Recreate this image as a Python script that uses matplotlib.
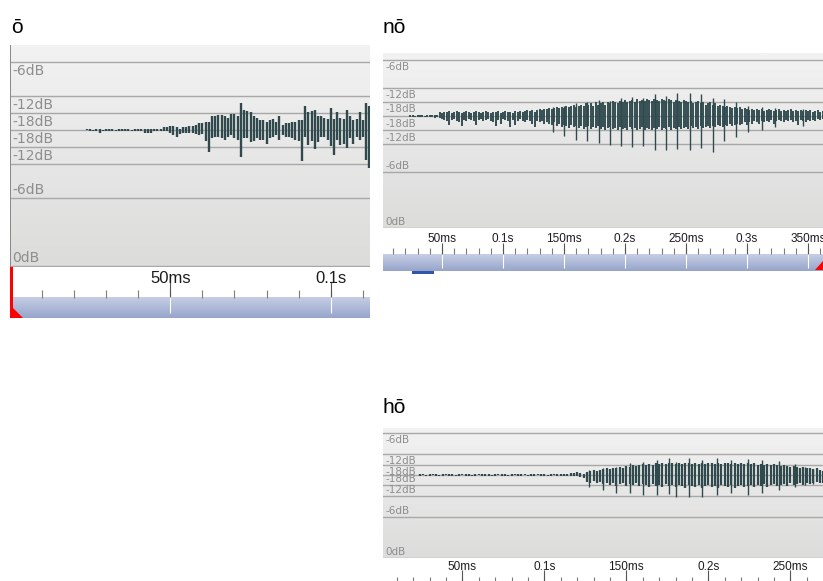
import numpy as np
import matplotlib
matplotlib.use("Agg")
import matplotlib.pyplot as plt
from matplotlib.colors import LinearSegmentedColormap
from matplotlib.patches import Polygon, Rectangle

W, H = 823, 581
WAVE = "#2f494d"
GRID = "#a8a8a8"
LABEL = "#8e8e8e"

# dB grid of the editor (linear amplitude of each labelled line)
db_levels = [0.5, 0.25, 0.125]
db_names = ["-6dB", "-12dB", "-18dB"]

# ---- panel "ō": one bar per ms, amplitude in % of full scale ----
o_t = np.arange(24, 113)
o_top = [1, 1, 0, 1, 1, 0, 1, 1, 1, 0, 1, 1, 1, 1, 0, 1, 1, 1, 1, 1,
         1, 1, 1, 1, 2, 2, 3, 3, 2, 1, 2, 2, 3, 3, 4,
         5, 5, 6, 6, 10, 10, 11, 11, 10, 9, 12, 12, 10, 20, 15, 14, 13, 10, 9, 7,
         7, 6, 7, 8, 6, 10, 4, 5, 5, 6, 6, 7, 7, 18, 13, 14, 15, 10, 10, 9,
         8, 16, 8, 13, 9, 8, 15, 10, 7, 8, 13, 7, 20, 18]
o_bot = [0, -1, -1, -1, -2, -1, -1, -1, -1, -1, -1, -1, -1, -1, -1, -1, -1, -1, -2, -2,
         -2, -1, -1, -1, -1, -1, -2, -4, -5, -3, -2, -2, -2, -2, -3,
         -4, -3, -8, -16, -6, -5, -5, -6, -7, -5, -4, -6, -7, -20, -6, -6, -9, -8, -6, -7,
         -7, -10, -6, -5, -4, -7, -4, -5, -5, -6, -7, -8, -23, -5, -11, -8, -14, -9, -5, -5,
         -7, -12, -18, -7, -11, -10, -13, -6, -10, -5, -7, -5, -22, -28]

# ---- panel "nō": body every 2 ms plus glottal pulse spikes ----
no_t = np.arange(24, 363, 2)
no_top = [1, 1, 0, 1, 1, 1, 0, 1, 1, 1, 1, 1,
          3, 2, 3, 3, 4, 2, 3, 4, 3, 2, 3, 4, 3, 2, 3, 4, 3, 2, 3, 4,
          3, 2, 3, 3, 4, 2, 3, 4, 3, 3, 2, 4, 3, 4, 3, 4, 5, 4, 5, 3, 5, 6, 5, 6,
          6, 7, 6, 7, 8, 7, 8, 7, 9, 8, 9, 10, 8, 9, 10, 9, 11, 10, 11, 9,
          12, 10, 11, 12, 10, 12, 11, 13, 12, 11, 13, 12, 14, 12, 13, 14, 12, 15, 13, 14,
          13, 15, 14, 13, 15, 14, 13, 15, 14, 13, 15, 14, 12, 14, 13, 12, 14, 13, 12, 13,
          11, 12, 13, 11, 12, 10, 11, 12, 10, 11, 9, 10, 9, 8, 9, 8, 7, 8, 7, 8,
          6, 7, 6, 5, 6, 5, 6, 5, 6, 4, 5, 6, 5, 4, 5, 6, 4, 5, 4, 5,
          6, 4, 5, 4, 5, 4, 5, 4, 5, 3, 4, 5, 3, 4]
no_bot = [-1, -1, -1, -1, -1, -1, -1, -1, -1, -1, -2, -1,
          -2, -3, -4, -5, -8, -4, -3, -5, -6, -9, -4, -5, -3, -4, -5, -8, -4, -3, -5, -4,
          -3, -5, -6, -9, -4, -7, -3, -4, -5, -10, -4, -8, -5, -3, -5, -6, -4, -5, -7, -10,
          -5, -6, -5, -7,
          -6, -7, -8, -6, -9, -7, -10, -8, -9, -11, -8, -10, -9, -11, -9, -12, -10, -9, -12, -10,
          -11, -9, -12, -10, -13, -11, -10, -12, -11, -13, -10, -12, -11, -13, -10, -12, -11, -13, -12, -10,
          -13, -11, -12, -13, -11, -12, -10, -13, -11, -12, -10, -13, -11, -12, -10, -12, -11, -10, -12, -9,
          -11, -10, -12, -9, -11, -10, -9, -11, -9, -10, -8, -9, -10, -8, -9, -7, -9, -8, -7, -8,
          -7, -6, -8, -6, -7, -5, -6, -7, -5, -6, -5, -6, -4, -7, -5, -4, -5, -6, -4, -5,
          -4, -6, -5, -8, -4, -5, -6, -4, -5, -4, -5, -3, -4, -3]
no_spk_t = [141, 150, 160, 169, 179, 188, 197, 206, 215, 225, 234, 243, 253, 262, 272,
            281, 291, 301, 312, 323, 346]
no_spk_top = [8, 9, 11, 12, 14, 13, 16, 17, 16, 19, 18, 20, 20, 19, 16, 15, 12, 9, 8, 7, 6]
no_spk_bot = [-15, -18, -22, -23, -24, -26, -27, -28, -27, -31, -31, -30, -31, -29, -32,
              -23, -19, -15, -13, -10, -9]

# ---- panel "hō" ----
ho_t = np.arange(24, 271, 2)
ho_top = [1, 1, 0, 1, 1, 1, 0, 1, 1, 1, 1, 0, 1, 1, 1, 1, 0, 1, 1, 1,
          1, 1, 0, 1, 1, 1, 1, 0, 1, 1, 1, 1, 1, 0, 1, 1, 1, 1, 1, 0,
          1, 1, 1, 1, 1, 1, 2,
          3, 4, 2, 1,
          4, 5, 6, 5, 6, 7, 8, 7, 9, 8, 10, 9, 11, 10, 12, 11, 12, 13, 12, 13,
          12, 14, 13, 14, 13, 15, 14, 13, 14, 13, 14, 15, 13, 14, 13, 14, 13, 14, 15, 13,
          14, 13, 14, 15, 13, 14, 13, 14, 13, 14, 13, 14, 12, 13, 12, 13, 12, 13, 12, 11,
          12, 11, 10, 11, 10, 9, 10, 9, 8, 7, 8, 6, 5]
ho_bot = [-1, 0, -1, -1, 0, -1, -1, -1, 0, -1, -1, -1, -1, 0, -1, -1, -1, -1, 0, -1,
          -1, -1, -1, -1, 0, -1, -1, -1, -1, 0, -1, -1, 0, -1, -1, -1, 0, -1, -1, -1,
          -1, 0, -1, -1, -1, -1, -1,
          -1, -1, -2, -3,
          -8, -9, -7, -10, -8, -11, -9, -12, -10, -13, -11, -10, -13, -11, -12, -10, -13, -11, -12, -14,
          -11, -13, -12, -14, -11, -13, -12, -14, -12, -13, -15, -12, -13, -14, -12, -15, -13, -12, -14, -13,
          -15, -12, -13, -14, -12, -15, -13, -12, -14, -13, -12, -14, -12, -13, -11, -14, -12, -11, -13, -12,
          -11, -13, -10, -12, -11, -10, -12, -9, -11, -10, -8, -9, -10]
ho_spk_t = [127, 136, 144, 152, 160, 169, 176, 180, 188, 196, 205, 214, 224, 233, 243, 253, 259, 264]
ho_spk_top = [6, 9, 10, 14, 16, 18, 20, 16, 21, 18, 20, 18, 19, 18, 17, 13, 10, 7]
ho_spk_bot = [-14, -18, -21, -22, -24, -24, -23, -26, -26, -26, -24, -22, -24, -22, -18, -14, -12, -11]

# ruler labels
o_ticks, o_names = [50, 100], ["50ms", "0.1s"]
no_ticks = [50, 100, 150, 200, 250, 300, 350]
no_names = ["50ms", "0.1s", "150ms", "0.2s", "250ms", "0.3s", "350ms"]
ho_ticks = [50, 100, 150, 200, 250]
ho_names = ["50ms", "0.1s", "150ms", "0.2s", "250ms"]

bg_cmap = LinearSegmentedColormap.from_list("bg", ["#f3f2f2", "#dcdcdb"])
band_cmap = LinearSegmentedColormap.from_list("band", ["#c6cee5", "#97a5cb"])


def fx(x):
    return x / W


def fy(y):
    return 1 - y / H


def px_axes(fig, x0, y0, x1, y1):
    ax = fig.add_axes([fx(x0), fy(y1), (x1 - x0) / W, (y1 - y0) / H])
    ax.set_axis_off()
    return ax


def draw_wave(ax, xlim, ylim, fs, t, top, bot, lw, spk=None, spk_lw=1.0):
    ax.imshow(np.linspace(0, 1, 64).reshape(-1, 1), cmap=bg_cmap, aspect="auto",
              extent=(xlim[0], xlim[1], ylim[0], ylim[1]), origin="upper", zorder=0)
    for lvl in db_levels + [-l for l in db_levels] + [0, -1]:
        ax.axhline(lvl, color=GRID, lw=1, zorder=1)
    tr = ax.get_yaxis_transform()
    for lvl, name in zip(db_levels, db_names):
        ax.annotate(name, (0, lvl), xycoords=tr, xytext=(2, -2), textcoords="offset pixels",
                    va="top", ha="left", fontsize=fs, color=LABEL, zorder=2)
        ax.annotate(name, (0, -lvl), xycoords=tr, xytext=(2, 1), textcoords="offset pixels",
                    va="bottom", ha="left", fontsize=fs, color=LABEL, zorder=2)
    ax.annotate("0dB", (0, -1), xycoords=tr, xytext=(2, 1), textcoords="offset pixels",
                va="bottom", ha="left", fontsize=fs, color=LABEL, zorder=2)
    ax.vlines(t, np.array(bot) / 100, np.array(top) / 100, color=WAVE, lw=lw, zorder=3)
    if spk is not None:
        st, stop, sbot = spk
        ax.vlines(st, np.array(sbot) / 100, np.array(stop) / 100, color=WAVE, lw=spk_lw, zorder=3)
    ax.set_xlim(xlim)
    ax.set_ylim(ylim)


def draw_ruler(ax, xlim, height, ticks, names, fs, label_y, minor, major, band_y0):
    if band_y0 is not None:
        ax.imshow(np.linspace(0, 1, 32).reshape(-1, 1), cmap=band_cmap, aspect="auto",
                  extent=(xlim[0], xlim[1], height, band_y0), origin="upper", zorder=0)
    minor_t = np.arange(10, xlim[1], 10)
    ax.vlines(minor_t, minor[0], minor[1], color="#7c7c7c", lw=0.8, zorder=1)
    top_end = band_y0 if band_y0 is not None else major[1]
    ax.vlines(ticks, major[0], top_end, color="#555555", lw=0.8, zorder=1)
    if band_y0 is not None:
        ax.vlines(ticks, band_y0, major[1], color="white", lw=0.8, zorder=1)
    for t, s in zip(ticks, names):
        ax.text(t, label_y, s, ha="center", va="center", fontsize=fs, color="#1c1c1c",
                family="Liberation Sans", zorder=2, clip_on=False)
    ax.set_xlim(xlim)
    ax.set_ylim(height, 0)


fig = plt.figure(figsize=(W / 100, H / 100), dpi=100)
fig.patch.set_facecolor("white")

# titles
for x, y, s in [(11, 33, "ō"), (383, 33, "nō"), (383, 413, "hō")]:
    fig.text(fx(x), fy(y), s, fontsize=15, family="Liberation Sans", va="baseline", ha="left")

# panel ō
ax = px_axes(fig, 10, 45, 370, 267)
draw_wave(ax, (0.12, 112.2), (-1.007, 0.625), 10, o_t, o_top, o_bot, lw=1.7)
ax = px_axes(fig, 10, 267, 370, 318)
draw_ruler(ax, (0.12, 112.2), 51, o_ticks, o_names, 12, 11.5, (23, 31), (15, 46), 30)
fig.add_artist(Rectangle((fx(10), fy(267)), 1.3 / W, 222 / H, transform=fig.transFigure,
                         color="#8a8a8a", lw=0))
fig.add_artist(Rectangle((fx(10), fy(318)), 2.5 / W, 51 / H, transform=fig.transFigure,
                         color="#ff0000", lw=0))
fig.add_artist(Polygon([(fx(10), fy(305)), (fx(10), fy(318)), (fx(23), fy(318))],
                       closed=True, transform=fig.transFigure, color="#ff0000", lw=0))

# panel nō
ax = px_axes(fig, 383, 53, 823, 228)
draw_wave(ax, (1.64, 362.3), (-1.003, 0.56), 7.5, no_t, no_top, no_bot, lw=1.35,
          spk=(no_spk_t, no_spk_top, no_spk_bot))
ax = px_axes(fig, 383, 228, 823, 271)
draw_ruler(ax, (1.64, 362.3), 43, no_ticks, no_names, 8.5, 11, (20, 26), (15, 40), 26)
fig.add_artist(Polygon([(fx(823), fy(261)), (fx(823), fy(270)), (fx(815), fy(270))],
                       closed=True, transform=fig.transFigure, color="#ff0000", lw=0))
fig.add_artist(Rectangle((fx(412), fy(274)), 22 / W, 2.5 / H, transform=fig.transFigure,
                         color="#2f57a8", lw=0))

# panel hō
ax = px_axes(fig, 383, 428, 823, 558)
draw_wave(ax, (1.65, 269.9), (-0.996, 0.564), 7.5, ho_t, ho_top, ho_bot, lw=1.6,
          spk=(ho_spk_t, ho_spk_top, ho_spk_bot))
ax = px_axes(fig, 383, 558, 823, 581)
draw_ruler(ax, (1.65, 269.9), 23, ho_ticks, ho_names, 8.5, 9, (19, 23), (12, 23), None)

fig.savefig("out.png", dpi=100)
